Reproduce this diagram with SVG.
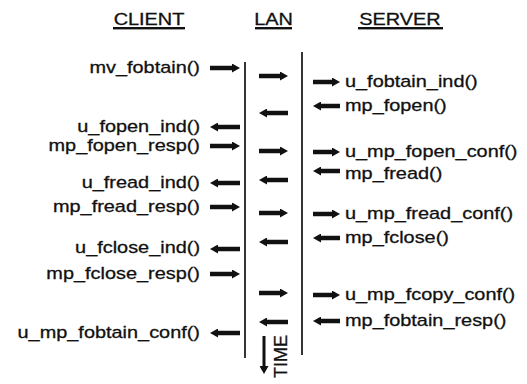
<svg xmlns="http://www.w3.org/2000/svg" width="527" height="384" viewBox="0 0 527 384">
<style>
text{font-family:"Liberation Sans",Arial,sans-serif;font-size:17px;fill:#111;stroke:#111;stroke-width:0.3}
.hd{text-anchor:middle}
.cl{text-anchor:end}
.sv{text-anchor:start}
.ul{fill:#111}
.arr{stroke:#111;stroke-width:4.5;fill:none;marker-end:url(#ah)}
.tl{stroke:#111;stroke-width:1.7;fill:none}
</style>
<defs>
<marker id="ah" markerUnits="userSpaceOnUse" markerWidth="8" markerHeight="9" refX="1" refY="4.5" orient="auto">
<path d="M0,0 L8,4.5 L0,9 z" fill="#111"/>
</marker>
</defs>
<rect width="527" height="384" fill="#fff"/>
<g id="headers">
<text class="hd" transform="translate(149,25) scale(1.17,1)">CLIENT</text>
<rect class="ul" x="113" y="27" width="72" height="2.4"/>
<text class="hd" transform="translate(273.5,25) scale(1.17,1)">LAN</text>
<rect class="ul" x="255" y="27" width="37" height="2.4"/>
<text class="hd" transform="translate(400,25) scale(1.17,1)">SERVER</text>
<rect class="ul" x="358" y="27" width="85" height="2.4"/>
</g>
<g id="timelines">
<line class="tl" x1="245" y1="62" x2="245" y2="358"/>
<line class="tl" x1="302" y1="52" x2="302" y2="355"/>
</g>
<g id="client">
<text class="cl" transform="translate(200,73) scale(1.17,1)">mv_fobtain()</text>
<text class="cl" transform="translate(200,132) scale(1.17,1)">u_fopen_ind()</text>
<text class="cl" transform="translate(200,151) scale(1.17,1)">mp_fopen_resp()</text>
<text class="cl" transform="translate(200,188) scale(1.17,1)">u_fread_ind()</text>
<text class="cl" transform="translate(200,212) scale(1.17,1)">mp_fread_resp()</text>
<text class="cl" transform="translate(200,253) scale(1.17,1)">u_fclose_ind()</text>
<text class="cl" transform="translate(200,279) scale(1.17,1)">mp_fclose_resp()</text>
<text class="cl" transform="translate(200,338) scale(1.17,1)">u_mp_fobtain_conf()</text>
</g>
<g id="server">
<text class="sv" transform="translate(345,87) scale(1.17,1)">u_fobtain_ind()</text>
<text class="sv" transform="translate(345,111) scale(1.17,1)">mp_fopen()</text>
<text class="sv" transform="translate(345,157) scale(1.17,1)">u_mp_fopen_conf()</text>
<text class="sv" transform="translate(345,179) scale(1.17,1)">mp_fread()</text>
<text class="sv" transform="translate(345,219) scale(1.17,1)">u_mp_fread_conf()</text>
<text class="sv" transform="translate(345,243) scale(1.17,1)">mp_fclose()</text>
<text class="sv" transform="translate(345,300) scale(1.17,1)">u_mp_fcopy_conf()</text>
<text class="sv" transform="translate(345,326) scale(1.17,1)">mp_fobtain_resp()</text>
</g>
<g id="connectors">
<line class="arr" x1="210" y1="68" x2="233" y2="68"/>
<line class="arr" x1="240" y1="127" x2="217" y2="127"/>
<line class="arr" x1="210" y1="146" x2="233" y2="146"/>
<line class="arr" x1="240" y1="183" x2="217" y2="183"/>
<line class="arr" x1="210" y1="207" x2="233" y2="207"/>
<line class="arr" x1="240" y1="249" x2="217" y2="249"/>
<line class="arr" x1="210" y1="274" x2="233" y2="274"/>
<line class="arr" x1="240" y1="333" x2="217" y2="333"/>
<line class="arr" x1="259" y1="76" x2="281" y2="76"/>
<line class="arr" x1="288" y1="113" x2="266" y2="113"/>
<line class="arr" x1="259" y1="151" x2="281" y2="151"/>
<line class="arr" x1="288" y1="180" x2="266" y2="180"/>
<line class="arr" x1="259" y1="213" x2="281" y2="213"/>
<line class="arr" x1="288" y1="242" x2="266" y2="242"/>
<line class="arr" x1="259" y1="293" x2="281" y2="293"/>
<line class="arr" x1="288" y1="322" x2="266" y2="322"/>
<line class="arr" x1="313" y1="82" x2="333" y2="82"/>
<line class="arr" x1="340" y1="106" x2="320" y2="106"/>
<line class="arr" x1="313" y1="152" x2="333" y2="152"/>
<line class="arr" x1="340" y1="171" x2="320" y2="171"/>
<line class="arr" x1="313" y1="214" x2="333" y2="214"/>
<line class="arr" x1="340" y1="238" x2="320" y2="238"/>
<line class="arr" x1="313" y1="295" x2="333" y2="295"/>
<line class="arr" x1="340" y1="321" x2="320" y2="321"/>
</g>
<g id="time">
<line x1="264" y1="336" x2="264" y2="367" stroke="#111" stroke-width="3" marker-end="url(#ah)"/>
<text transform="translate(287,378) rotate(-90)" style="font-size:18px">TIME</text>
</g>
</svg>
